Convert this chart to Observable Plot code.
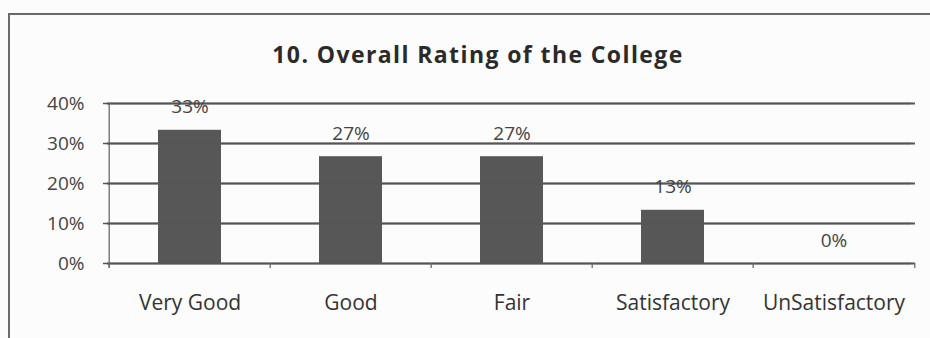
<!DOCTYPE html>
<html>
<head>
<meta charset="utf-8">
<script src="https://cdn.jsdelivr.net/npm/d3@7"></script>
<script src="https://cdn.jsdelivr.net/npm/@observablehq/plot@0.6"></script>
<style>
  html, body { margin: 0; padding: 0; background: #fff; }
  #wrap { position: relative; width: 930px; height: 338px; overflow: hidden; background: #fcfcfc; }
  #frame { position: absolute; left: 8px; top: 13px; width: 940px; height: 340px;
           border-top: 2px solid #6a6a6a; border-left: 2px solid #6a6a6a; }
  #title { position: absolute; left: 0; width: 956px; top: 39px; text-align: center;
           font-family: "Open Sans", sans-serif; font-weight: bold; font-size: 23px; color: #2a2a2a;
           letter-spacing: 1.4px; line-height: 30px; }
  #chart { position: absolute; left: 0; top: 0; }
</style>
</head>
<body>
<div id="wrap">
  <div id="frame"></div>
  <div id="title">10. Overall Rating of the College</div>
  <div id="chart"></div>
</div>
<script>
const categories = ["Very Good", "Good", "Fair", "Satisfactory", "UnSatisfactory"];
const values = [0.333, 0.267, 0.267, 0.133, 0];
const valueLabels = ["33%", "27%", "27%", "13%", "0%"];
const yTicks = [0, 0.1, 0.2, 0.3, 0.4];
const yTickLabels = ["0%", "10%", "20%", "30%", "40%"];

const data = categories.map((c, i) => ({category: c, value: values[i], label: valueLabels[i]}));
const W = 930, mL = 107, mR = 15;
const step = (W - mL - mR) / categories.length;

const plot = Plot.plot({
  width: W,
  height: 338,
  marginTop: 103,
  marginBottom: 75,
  marginLeft: 107,
  marginRight: 15,
  style: {background: "transparent", fontFamily: "'Open Sans', sans-serif", color: "#444"},
  x: {domain: categories, paddingInner: 0.61, paddingOuter: 0.305, axis: null},
  y: {domain: [0, 0.4], axis: null},
  marks: [
    Plot.ruleY(yTicks, {stroke: "#555", strokeWidth: 1.8}),
    Plot.barY(data, {x: "category", y: "value", fill: "#575757"}),
    Plot.ruleX([categories[0]], {x: d => d, dx: -step / 2, y1: 0.4, y2: 0, insetBottom: -5, stroke: "#6a6a6a", strokeWidth: 1.3}),
    Plot.tickY(yTicks, {y: d => d, frameAnchor: "left", dx: -4, stroke: "#555", strokeWidth: 1.3}),
    Plot.text(yTicks, {y: d => d, frameAnchor: "left", dx: -23, text: (d, i) => yTickLabels[i],
      textAnchor: "end", fontSize: 19, letterSpacing: 1.8, fill: "#444"}),
    Plot.ruleX(categories, {x: d => d, dx: -step / 2, y1: 0, y2: 0, insetBottom: -5, stroke: "#6a6a6a", strokeWidth: 1.3}),
    Plot.ruleX([categories[categories.length - 1]], {x: d => d, dx: step / 2, y1: 0, y2: 0, insetBottom: -5, stroke: "#6a6a6a", strokeWidth: 1.3}),
    Plot.text(data, {x: "category", y: "value", text: "label", dy: -23, fontSize: 19, letterSpacing: 1.8, fill: "#444"}),
    Plot.text(categories, {x: d => d, y: 0, dy: 40, text: d => d, fontSize: 21, letterSpacing: 2, fill: "#333"})
  ]
});
document.getElementById("chart").appendChild(plot);
</script>
</body>
</html>
